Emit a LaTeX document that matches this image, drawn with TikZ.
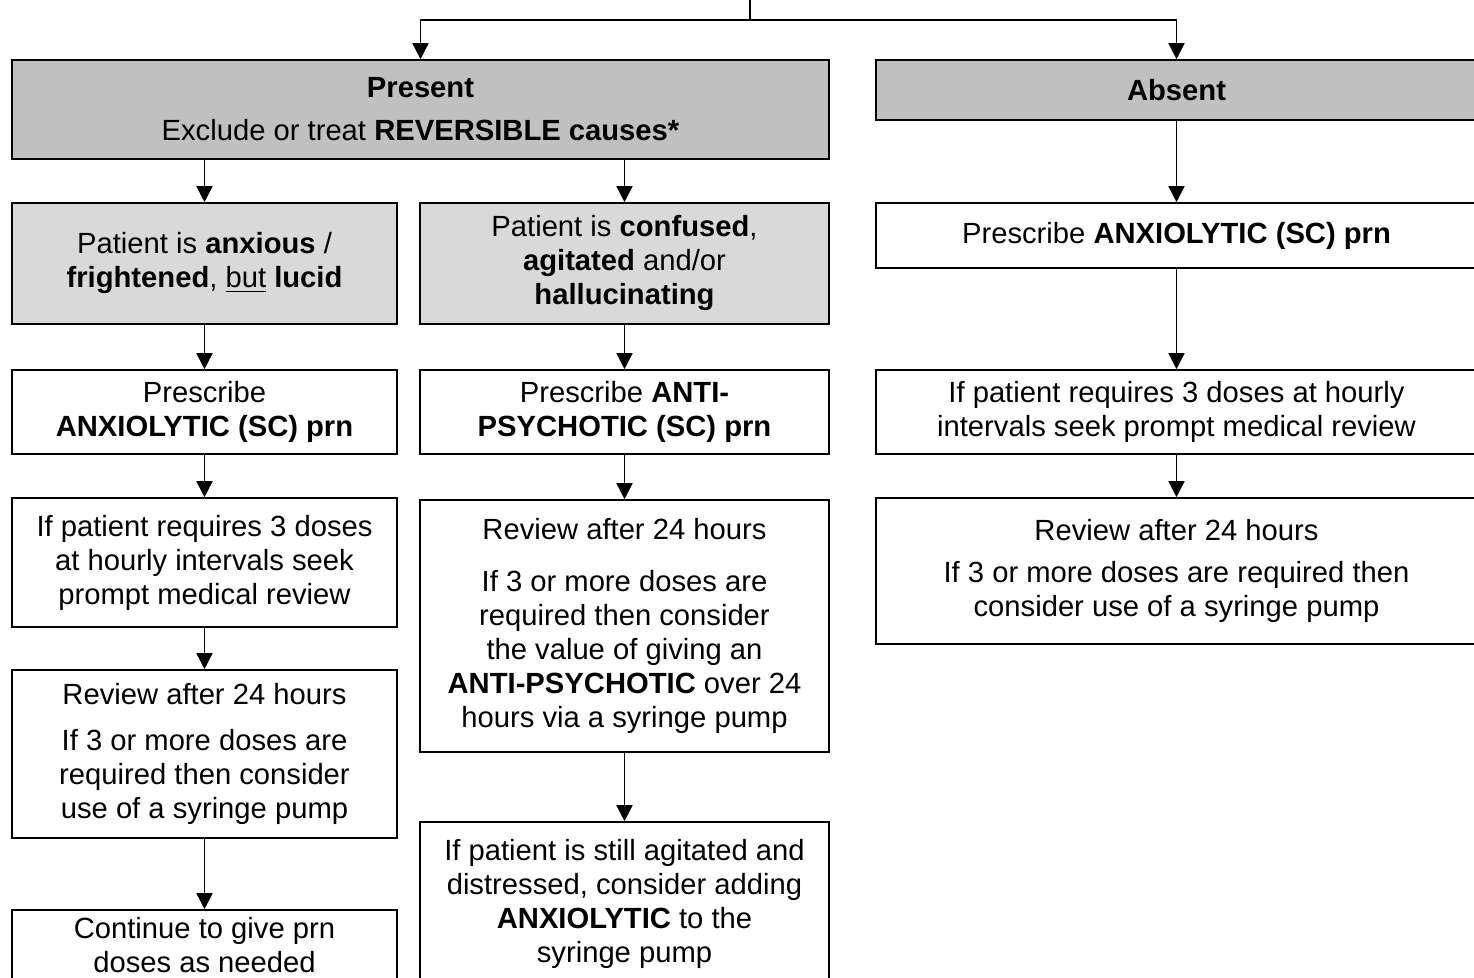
\documentclass[tikz,border=0pt]{standalone}
\usepackage{fontspec}
\setmainfont{Liberation Sans}
\usetikzlibrary{arrows.meta}
\definecolor{darkgrey}{HTML}{C0C0C0}
\definecolor{lightgrey}{HTML}{D9D9D9}
\tikzset{
	box/.style 2 args={draw,line width=0.8pt,inner sep=0pt,align=center,minimum width=#1,minimum height=#2,font=\fontsize{14.6}{17}\selectfont},
	dbox/.style 2 args={box={#1}{#2},fill=darkgrey},
	lbox/.style 2 args={box={#1}{#2},fill=lightgrey},
	arr/.style={line width=0.8pt,-{Triangle[width=8pt,length=8pt]}}
}
\begin{document}
\begin{tikzpicture}[x=0.5pt,y=-0.5pt]
	\useasboundingbox (0,0) rectangle (1474,978);
	\clip (0,0) rectangle (1474,978);

	\node[dbox={408.5pt}{49.5pt}] (present) at (420.5,109.5) {\textbf{Present}\\[4.5pt]Exclude or treat \textbf{REVERSIBLE causes*}};
	\node[dbox={300.5pt}{30pt}] (absent) at (1176.5,90) {\textbf{Absent}};

	\node[lbox={192.5pt}{60.5pt}] (anx) at (204.5,263.5) {Patient is \textbf{anxious} /\\\textbf{frightened}, \underline{but} \textbf{lucid}};
	\node[lbox={204.5pt}{60.5pt}] (conf) at (624.5,263.5) {Patient is \textbf{confused},\\\textbf{agitated} and/or\\\textbf{hallucinating}};
	\node[box={300.5pt}{32.5pt}] (rxR) at (1176.5,235.5) {Prescribe \textbf{ANXIOLYTIC (SC) prn}};

	\node[box={192.5pt}{42pt}] (rxL) at (204.5,412) {Prescribe\\\textbf{ANXIOLYTIC (SC) prn}};
	\node[box={204.5pt}{42pt}] (rxM) at (624.5,412) {Prescribe \textbf{ANTI-}\\\textbf{PSYCHOTIC (SC) prn}};
	\node[box={300.5pt}{42pt}] (reqR) at (1176.5,412) {If patient requires 3 doses at hourly\\intervals seek prompt medical review};

	\node[box={192.5pt}{64.5pt}] (reqL) at (204.5,562.5) {If patient requires 3 doses\\at hourly intervals seek\\prompt medical review};
	\node[box={204.5pt}{126pt}] (revM) at (624.5,626) {Review after 24 hours\\[9pt]If 3 or more doses are\\required then consider\\the value of giving an\\\textbf{ANTI-PSYCHOTIC} over 24\\hours via a syringe pump};
	\node[box={300.5pt}{73pt}] (revR) at (1176.5,571) {Review after 24 hours\\[4pt]If 3 or more doses are required then\\consider use of a syringe pump};

	\node[box={192.5pt}{84pt}] (revL) at (204.5,754) {Review after 24 hours\\[6pt]If 3 or more doses are\\required then consider\\use of a syringe pump};
	\node[box={192.5pt}{35pt}] (contL) at (204.5,945) {Continue to give prn\\doses as needed};
	\node[box={204.5pt}{82pt}] (stillM) at (624.5,904) {If patient is still agitated and\\distressed, consider adding\\\textbf{ANXIOLYTIC} to the\\syringe pump};

	\coordinate (top) at (750,0);
	\coordinate (fork) at (750,20);
	\draw[line width=0.8pt] (top) -- (fork);
	\draw[arr] (fork) -| (present);
	\draw[arr] (fork) -| (absent);

	\draw[arr] (anx.north |- present.south) -- (anx);
	\draw[arr] (conf.north |- present.south) -- (conf);
	\draw[arr] (absent) -- (rxR);

	\draw[arr] (anx) -- (rxL);
	\draw[arr] (rxL) -- (reqL);
	\draw[arr] (reqL) -- (revL);
	\draw[arr] (revL) -- (contL);

	\draw[arr] (conf) -- (rxM);
	\draw[arr] (rxM) -- (revM);
	\draw[arr] (revM) -- (stillM);

	\draw[arr] (rxR) -- (reqR);
	\draw[arr] (reqR) -- (revR);
\end{tikzpicture}
\end{document}
